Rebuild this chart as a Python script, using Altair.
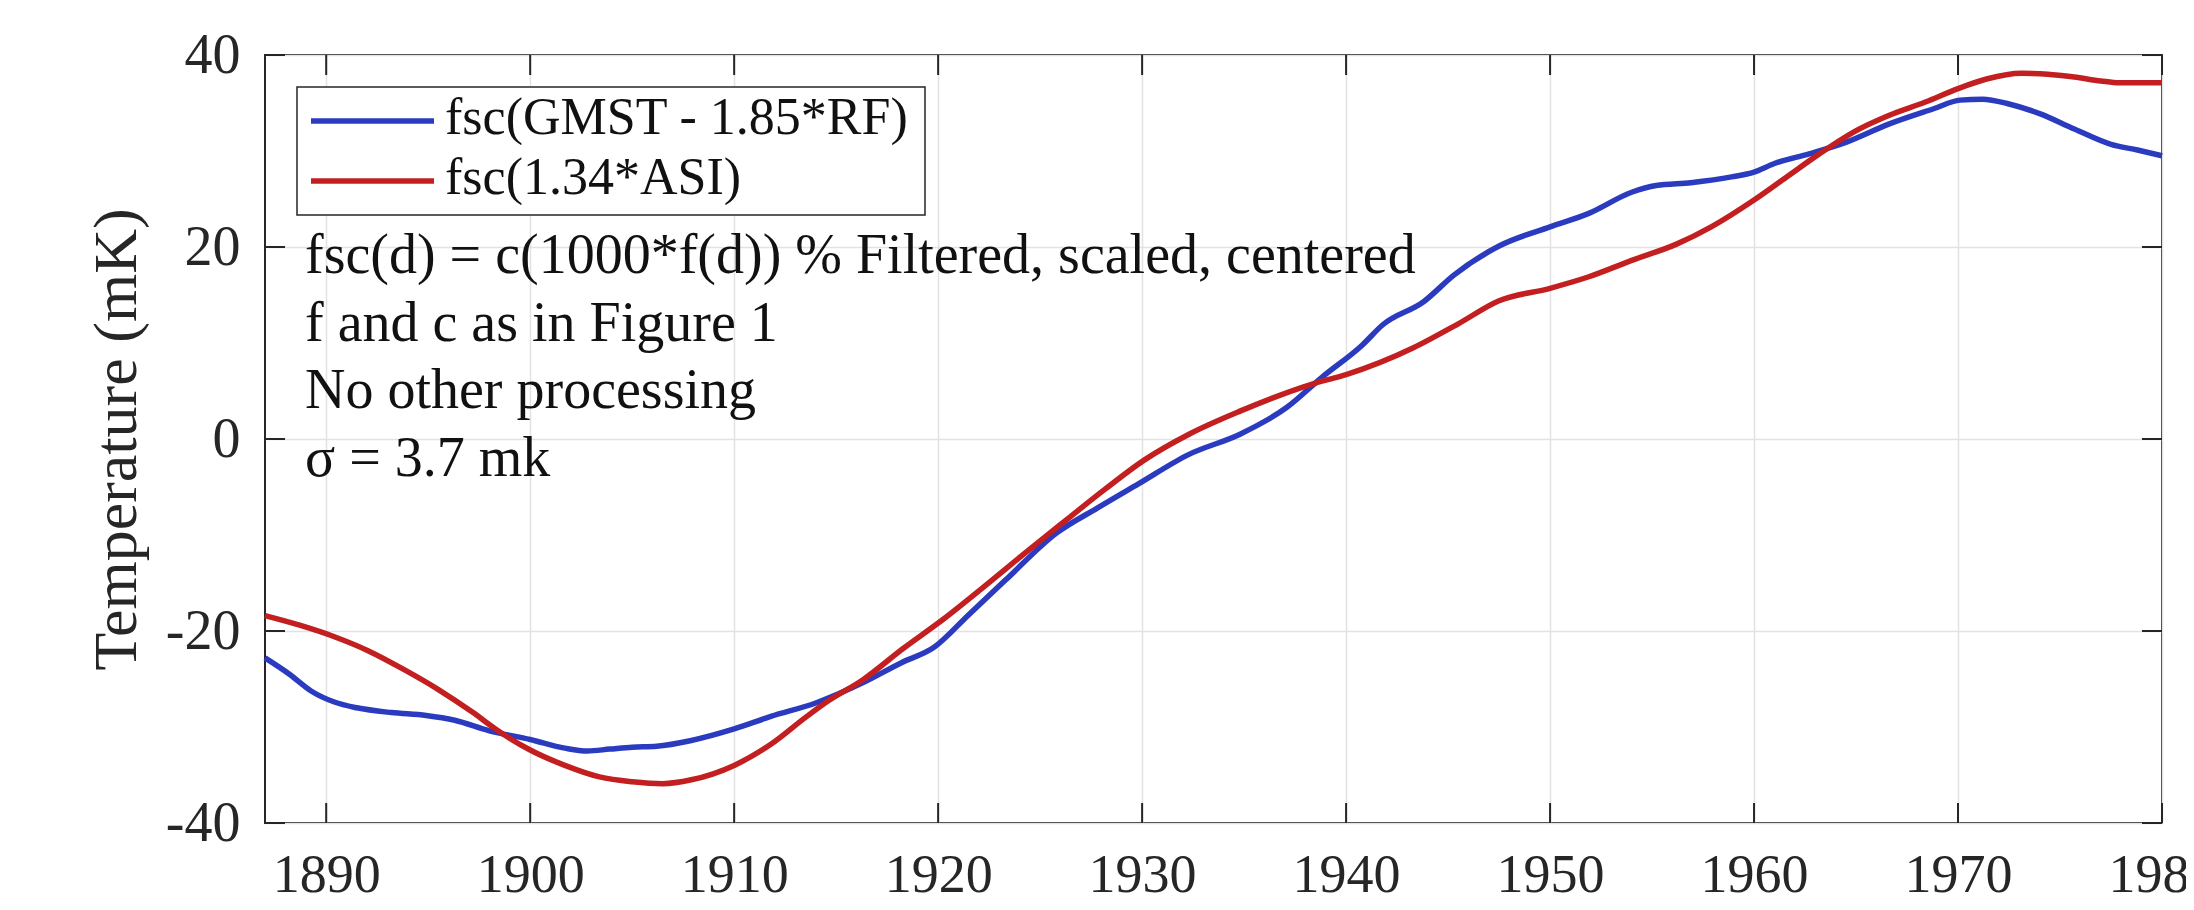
import altair as alt
import pandas as pd

# ---------------- data ----------------
blue_years = [1887.0, 1888.2, 1889.3, 1890.4, 1891.5, 1893.2, 1894.9, 1896.3, 1898.0, 1900.0,
              1901.7, 1902.8, 1903.9, 1905.0, 1906.2, 1907.9, 1910.0, 1911.8, 1914.0, 1916.3,
              1918.2, 1919.8, 1921.5, 1923.3, 1925.8, 1927.8, 1929.8, 1932.3, 1934.8, 1937.1,
              1938.8, 1940.8, 1941.8, 1943.8, 1945.3, 1947.5, 1950.0, 1951.9, 1954.0, 1955.2,
              1956.9, 1958.9, 1960.0, 1961.0, 1962.7, 1964.5, 1966.6, 1968.8, 1970.1, 1971.2,
              1972.5, 1974.0, 1975.7, 1977.5, 1978.8, 1980.0]
blue_vals = [-22.8, -24.5, -26.3, -27.4, -28.0, -28.5, -28.8, -29.3, -30.4, -31.3,
             -32.2, -32.5, -32.3, -32.1, -32.0, -31.4, -30.2, -28.9, -27.5, -25.4,
             -23.3, -21.7, -18.3, -14.7, -9.8, -7.2, -4.7, -1.6, 0.5, 3.3,
             6.4, 9.8, 11.9, 14.3, 17.1, 20.1, 22.1, 23.5, 25.7, 26.4,
             26.7, 27.3, 27.8, 28.7, 29.7, 30.9, 32.8, 34.4, 35.3, 35.4,
             34.9, 33.9, 32.3, 30.7, 30.1, 29.5]

red_years = [1887.0, 1888.7, 1890.4, 1892.1, 1893.8, 1895.5, 1897.2, 1898.3, 1900.0, 1901.7,
             1903.4, 1905.0, 1906.5, 1907.9, 1910.0, 1911.8, 1913.5, 1914.6, 1916.3, 1918.3,
             1920.3, 1922.3, 1924.3, 1926.3, 1928.2, 1930.1, 1932.3, 1934.8, 1938.3, 1940.0,
             1943.3, 1945.5, 1947.5, 1950.0, 1951.9, 1954.0, 1956.2, 1957.9, 1960.0, 1961.6,
             1963.2, 1964.9, 1966.6, 1968.4, 1970.0, 1971.4, 1973.1, 1974.4, 1975.7, 1977.0,
             1977.9, 1980.0]
red_vals = [-18.4, -19.4, -20.6, -22.1, -24.0, -26.1, -28.5, -30.2, -32.4, -34.0,
            -35.2, -35.7, -35.9, -35.5, -34.0, -31.8, -29.0, -27.3, -25.1, -21.8,
            -18.7, -15.3, -11.8, -8.4, -5.2, -2.2, 0.5, 2.9, 5.7, 6.7,
            9.5, 12.0, 14.4, 15.7, 16.9, 18.6, 20.3, 22.1, 24.9, 27.3,
            29.7, 32.0, 33.7, 35.1, 36.5, 37.5, 38.1, 38.0, 37.7, 37.3,
            37.1, 37.1]

series_names = ["fsc(GMST - 1.85*RF)", "fsc(1.34*ASI)"]
series_colors = ["#2b3bbf", "#c31f20"]

x_ticks = [1890, 1900, 1910, 1920, 1930, 1940, 1950, 1960, 1970, 1980]
y_ticks = [-40, -20, 0, 20, 40]
x_domain = [1887, 1980]
y_domain = [-40, 40]

y_title = "Temperature (mK)"
annotation_lines = [
    "fsc(d) = c(1000*f(d)) % Filtered, scaled, centered",
    "f and c as in Figure 1",
    "No other processing",
    "\u03c3 = 3.7 mk",
]

# ---------------- layout / style ----------------
W, H = 1897, 768
FONT = "Liberation Serif"
AX = "#262626"
TICK_LEN = 20

df = pd.concat([
    pd.DataFrame({"year": blue_years, "value": blue_vals, "series": series_names[0]}),
    pd.DataFrame({"year": red_years, "value": red_vals, "series": series_names[1]}),
], ignore_index=True)

xscale = alt.Scale(domain=x_domain, nice=False, zero=False)
yscale = alt.Scale(domain=y_domain, nice=False, zero=False)

x_axis = alt.Axis(values=x_ticks, format="d", grid=True, gridColor="#e2e2e2", gridWidth=1.5,
                  ticks=False, tickSize=0, domain=False, labelPadding=25,
                  labelFont=FONT, labelFontSize=54, labelColor=AX, labelFlush=False,
                  labelOverlap=False, title=None)
y_axis = alt.Axis(values=y_ticks, grid=True, gridColor="#e2e2e2", gridWidth=1.5,
                  ticks=False, tickSize=0, domain=False, labelPadding=25,
                  labelExpr="datum.value < 0 ? '-' + abs(datum.value) : '' + datum.value",
                  labelFont=FONT, labelFontSize=56, labelColor=AX, labelFlush=False,
                  labelOverlap=False, labelBaseline="middle",
                  title=y_title, titleFont=FONT, titleFontSize=62, titleFontWeight="normal",
                  titleColor=AX, titleAngle=270, titleX=-130, titleY=H / 2,
                  titleAlign="center", titleBaseline="alphabetic")

lines = alt.Chart(df).mark_line(strokeWidth=5.5, interpolate="monotone").encode(
    x=alt.X("year:Q", scale=xscale, axis=x_axis, title=None),
    y=alt.Y("value:Q", scale=yscale, axis=y_axis, title=y_title),
    color=alt.Color("series:N", scale=alt.Scale(domain=series_names, range=series_colors),
                    legend=None),
)

xt = pd.DataFrame({"year": x_ticks})
yt = pd.DataFrame({"value": y_ticks})
rule_kw = dict(color=AX, strokeWidth=2)
bottom_ticks = alt.Chart(xt).mark_rule(**rule_kw).encode(
    x=alt.X("year:Q", scale=xscale, axis=x_axis, title=None),
    y=alt.value(H), y2=alt.value(H - TICK_LEN))
top_ticks = alt.Chart(xt).mark_rule(**rule_kw).encode(
    x=alt.X("year:Q", scale=xscale, axis=x_axis, title=None),
    y=alt.value(0), y2=alt.value(TICK_LEN))
left_ticks = alt.Chart(yt).mark_rule(**rule_kw).encode(
    y=alt.Y("value:Q", scale=yscale, axis=y_axis, title=y_title),
    x=alt.value(0), x2=alt.value(TICK_LEN))
right_ticks = alt.Chart(yt).mark_rule(**rule_kw).encode(
    y=alt.Y("value:Q", scale=yscale, axis=y_axis, title=y_title),
    x=alt.value(W), x2=alt.value(W - TICK_LEN))

one = pd.DataFrame({"k": [0]})
legend_box = alt.Chart(one).mark_rect(fill="white", stroke=AX, strokeWidth=1.5).encode(
    x=alt.value(32), x2=alt.value(660), y=alt.value(32), y2=alt.value(160))

legend_rows = [66, 126]
legend_layers = []
for name, col, ry in zip(series_names, series_colors, legend_rows):
    legend_layers.append(
        alt.Chart(one).mark_rule(color=col, strokeWidth=5.5).encode(
            x=alt.value(46), x2=alt.value(169), y=alt.value(ry)))
    legend_layers.append(
        alt.Chart(one).mark_text(align="left", baseline="middle", font=FONT, fontSize=52,
                                 color="#111111").encode(
            x=alt.value(180), y=alt.value(ry - 3), text=alt.value(name)))

annotation = alt.Chart(one).mark_text(align="left", baseline="alphabetic", font=FONT,
                                      fontSize=56, lineHeight=67.5, color="#111111").encode(
    x=alt.value(40), y=alt.value(218), text=alt.value(annotation_lines))

chart = alt.layer(
    lines, bottom_ticks, top_ticks, left_ticks, right_ticks,
    legend_box, *legend_layers, annotation
).properties(
    width=W, height=H,
    padding={"left": 257, "top": 47, "right": 24, "bottom": 79},
    autosize=alt.AutoSizeParams(type="none"),
    background="white",
).configure_view(stroke=AX, strokeWidth=2)

chart.save("out.html", embed_options={"renderer": "svg", "actions": False})
